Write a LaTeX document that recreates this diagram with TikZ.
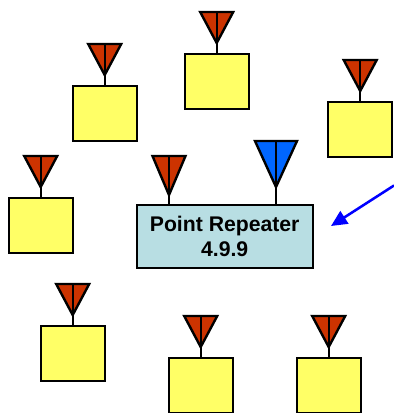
\documentclass[tikz,border=0pt]{standalone}
\usepackage{fontspec}
\setmainfont{Liberation Sans}
\usetikzlibrary{arrows.meta}
\definecolor{antred}{HTML}{CC3300}
\definecolor{antblue}{HTML}{0066FF}
\definecolor{boxyellow}{HTML}{FFFF66}
\definecolor{repcyan}{HTML}{B8DEE3}

\begin{document}
\begin{tikzpicture}[x=0.75pt,y=-0.75pt,line width=1.8pt,line join=miter,station/.style={shape=rectangle,draw=black,fill=boxyellow,minimum width=48pt,minimum height=41.25pt,inner sep=0pt},repeater/.style={shape=rectangle,draw=black,fill=repcyan,minimum width=132pt,minimum height=47.25pt,inner sep=0pt,align=center,font=\fontsize{15.9}{19.2}\selectfont\bfseries},link/.style={draw=blue,line width=1.9pt,-{Triangle[length=12pt,width=11pt]}}]
\def\dw{16.5};
\def\dh{31};
\useasboundingbox (0,0) rectangle (393,413);

% stations
\foreach \nm/\x/\y in {a/104.7/113.5,b/216.7/81.5,c/360.2/129.5,d/40.7/225.5,e/72.7/353.5,f/200.7/385.5,g/328.7/385.5}{
  \node[station] (\nm) at (\x,\y) {};
  \coordinate (\nm top) at (\x,\y-55/2-42);
  \filldraw[fill=antred] (\nm top) ++(-\dw,0) -- ++(2*\dw,0) -- ++(-\dw,\dh) -- cycle;
  \draw (\nm top) -- (\nm.north);
}

\node[repeater] (rep) at (224.7,236.5) {Point Repeater\\4.9.9};

% antennas on the repeater
\coordinate (repR) at (169,156);
\filldraw[fill=antred] (repR) ++(-\dw,0) -- ++(2*\dw,0) -- ++(-\dw,39) -- cycle;
\draw (repR) -- (repR |- rep.north);

\coordinate (repB) at (276,141);
\filldraw[fill=antblue] (repB) ++(-21,0) -- ++(42,0) -- ++(-21,46) -- cycle;
\draw (repB) -- (repB |- rep.north);

% arrow
\coordinate (arrS) at (394,185.5);
\coordinate (arrE) at (331,226);
\draw[link] (arrS) -- (arrE);
\end{tikzpicture}
\end{document}
